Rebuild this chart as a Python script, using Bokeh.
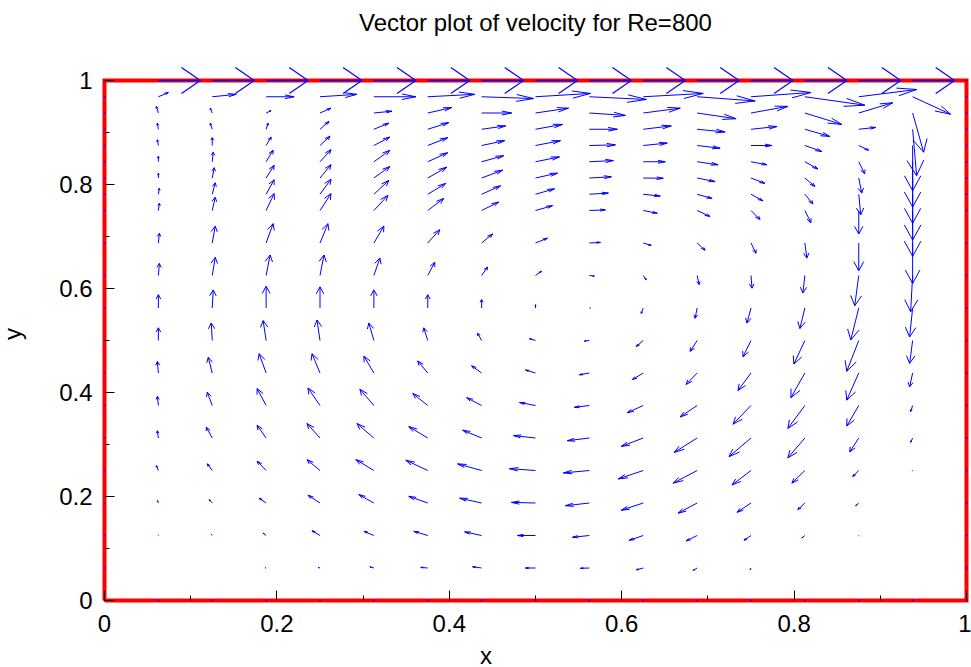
import numpy as np
from bokeh.plotting import figure
from bokeh.models import Range1d, FixedTicker, Label
from bokeh.embed import file_html
from bokeh.resources import INLINE

# ---------------- data ----------------
x_cols = [0.0625, 0.125, 0.1875, 0.25, 0.3125, 0.375, 0.4375, 0.5,
          0.5625, 0.625, 0.6875, 0.75, 0.8125, 0.875, 0.9375]
y_rows = [0.0625, 0.125, 0.1875, 0.25, 0.3125, 0.375, 0.4375, 0.5,
          0.5625, 0.625, 0.6875, 0.75, 0.78125, 0.8125, 0.84375,
          0.875, 0.90625, 0.9375, 0.96875]

# u velocity, one list per row (bottom row first), columns left to right
u_rows = [
    [0.00, 0.00, -0.01, -0.02, -0.04, -0.07, -0.09, -0.10, -0.09, -0.07, -0.04, -0.01, 0.00, 0.00, 0.00],
    [0.00, -0.01, -0.03, -0.08, -0.10, -0.14, -0.17, -0.18, -0.17, -0.14, -0.11, -0.07, -0.03, 0.00, 0.00],
    [-0.01, -0.03, -0.07, -0.12, -0.15, -0.19, -0.22, -0.24, -0.24, -0.22, -0.19, -0.14, -0.07, -0.03, 0.00],
    [-0.02, -0.05, -0.09, -0.13, -0.18, -0.22, -0.24, -0.26, -0.26, -0.25, -0.24, -0.19, -0.13, -0.06, -0.005],
    [-0.01, -0.06, -0.09, -0.13, -0.17, -0.19, -0.19, -0.22, -0.22, -0.22, -0.23, -0.22, -0.17, -0.09, -0.02],
    [-0.01, -0.05, -0.09, -0.12, -0.14, -0.15, -0.15, -0.16, -0.15, -0.16, -0.17, -0.18, -0.17, -0.12, -0.02],
    [-0.01, -0.04, -0.07, -0.08, -0.10, -0.10, -0.10, -0.10, -0.10, -0.11, -0.11, -0.13, -0.14, -0.12, -0.03],
    [0.00, -0.01, -0.03, -0.03, -0.05, -0.04, -0.04, -0.06, -0.05, -0.07, -0.07, -0.08, -0.11, -0.12, -0.03],
    [0.00, 0.01, 0.00, 0.00, 0.00, 0.00, 0.00, 0.00, 0.01, -0.02, -0.02, -0.04, -0.05, -0.08, -0.03],
    [0.01, 0.03, 0.04, 0.04, 0.06, 0.07, 0.06, 0.06, 0.05, 0.03, 0.02, 0.01, -0.02, -0.04, -0.02],
    [0.01, 0.03, 0.07, 0.08, 0.10, 0.12, 0.11, 0.12, 0.11, 0.08, 0.08, 0.05, 0.02, 0.00, 0.00],
    [0.01, 0.03, 0.08, 0.11, 0.14, 0.16, 0.17, 0.17, 0.16, 0.14, 0.13, 0.09, 0.06, 0.00, 0.00],
    [0.01, 0.03, 0.08, 0.11, 0.15, 0.18, 0.19, 0.19, 0.19, 0.17, 0.15, 0.12, 0.08, 0.02, 0.00],
    [0.00, 0.02, 0.08, 0.11, 0.16, 0.19, 0.21, 0.22, 0.22, 0.20, 0.18, 0.14, 0.10, 0.03, 0.00],
    [0.00, 0.01, 0.07, 0.11, 0.16, 0.20, 0.22, 0.24, 0.24, 0.22, 0.21, 0.16, 0.13, 0.06, 0.00],
    [-0.01, 0.00, 0.05, 0.10, 0.16, 0.20, 0.23, 0.25, 0.26, 0.24, 0.23, 0.21, 0.17, 0.10, 0.00],
    [-0.01, -0.02, 0.02, 0.09, 0.15, 0.21, 0.24, 0.27, 0.28, 0.28, 0.28, 0.26, 0.25, 0.17, 0.04],
    [-0.02, -0.02, 0.05, 0.11, 0.18, 0.24, 0.30, 0.33, 0.36, 0.37, 0.39, 0.37, 0.37, 0.34, 0.11],
    [0.10, 0.24, 0.28, 0.37, 0.42, 0.47, 0.52, 0.55, 0.57, 0.60, 0.58, 0.60, 0.60, 0.58, 0.38],
]
# v velocity, same layout
v_rows = [
    [0.00, 0.00, 0.005, 0.01, 0.02, 0.01, 0.02, 0.00, -0.005, -0.03, -0.04, -0.03, 0.00, 0.00, 0.00],
    [0.01, 0.02, 0.04, 0.08, 0.07, 0.07, 0.06, 0.00, -0.03, -0.08, -0.09, -0.08, -0.04, -0.01, 0.00],
    [0.04, 0.055, 0.08, 0.13, 0.14, 0.11, 0.08, 0.01, -0.045, -0.12, -0.17, -0.155, -0.11, -0.045, 0.00],
    [0.08, 0.11, 0.155, 0.18, 0.18, 0.17, 0.11, 0.03, -0.04, -0.14, -0.21, -0.24, -0.21, -0.10, -0.01],
    [0.12, 0.18, 0.21, 0.24, 0.24, 0.19, 0.13, 0.04, -0.045, -0.14, -0.24, -0.31, -0.33, -0.23, -0.07],
    [0.15, 0.22, 0.28, 0.29, 0.27, 0.20, 0.13, 0.05, -0.03, -0.12, -0.19, -0.31, -0.38, -0.34, -0.10],
    [0.19, 0.26, 0.32, 0.32, 0.28, 0.20, 0.12, 0.05, -0.03, -0.11, -0.19, -0.29, -0.41, -0.45, -0.23],
    [0.21, 0.29, 0.33, 0.34, 0.29, 0.21, 0.12, 0.03, -0.01, -0.10, -0.18, -0.27, -0.39, -0.51, -0.38],
    [0.22, 0.30, 0.36, 0.35, 0.30, 0.22, 0.14, 0.055, 0.00, -0.09, -0.17, -0.25, -0.34, -0.53, -0.48],
    [0.20, 0.30, 0.34, 0.34, 0.29, 0.22, 0.14, 0.07, -0.01, -0.07, -0.15, -0.21, -0.29, -0.50, -0.60],
    [0.16, 0.28, 0.32, 0.32, 0.28, 0.22, 0.15, 0.08, 0.01, -0.04, -0.12, -0.17, -0.25, -0.46, -0.67],
    [0.12, 0.22, 0.28, 0.28, 0.25, 0.20, 0.14, 0.08, 0.01, -0.045, -0.10, -0.15, -0.20, -0.39, -0.76],
    [0.10, 0.19, 0.24, 0.25, 0.23, 0.18, 0.14, 0.09, 0.02, -0.03, -0.07, -0.11, -0.16, -0.34, -0.76],
    [0.08, 0.17, 0.21, 0.22, 0.19, 0.18, 0.13, 0.08, 0.02, -0.005, -0.06, -0.09, -0.14, -0.25, -0.75],
    [0.09, 0.16, 0.19, 0.20, 0.19, 0.15, 0.10, 0.08, 0.02, 0.00, -0.05, -0.05, -0.12, -0.20, -0.75],
    [0.095, 0.13, 0.14, 0.155, 0.14, 0.13, 0.08, 0.08, 0.01, 0.04, -0.045, 0.00, -0.10, -0.08, -0.75],
    [0.10, 0.10, 0.10, 0.13, 0.10, 0.11, 0.055, 0.08, 0.00, 0.055, -0.045, 0.045, -0.12, 0.03, -0.77],
    [0.11, 0.08, 0.04, 0.08, 0.03, 0.09, 0.00, 0.08, -0.04, 0.08, -0.095, 0.11, -0.19, 0.17, -0.65],
    [0.07, 0.04, 0.00, 0.04, 0.00, 0.04, -0.03, 0.055, -0.045, 0.055, -0.07, 0.07, -0.14, 0.12, -0.29],
]

# moving lid (y = 1)
lid_y = 1.0
lid_u = [1.0, 1.0, 1.0, 1.0, 1.0, 1.0, 1.0, 1.0, 1.0, 1.0, 1.0, 1.0, 1.0, 1.0, 1.0]
lid_v = [0.0, 0.0, 0.0, 0.0, 0.0, 0.0, 0.0, 0.0, 0.0, 0.0, 0.0, 0.0, 0.0, 0.0, 0.0]

# cavity walls
wall_x = [0.0, 1.0, 1.0, 0.0, 0.0]
wall_y = [0.0, 0.0, 1.0, 1.0, 0.0]

tick_values = [0.0, 0.2, 0.4, 0.6, 0.8, 1.0]
tick_labels = ["0", "0.2", "0.4", "0.6", "0.8", "1"]
minor_values = [0.1, 0.3, 0.5, 0.7, 0.9]
title_text = "Vector plot of velocity for Re=800"

# ---------------- styling constants ----------------
SCALE = 0.116        # data units per velocity unit (interior quiver)
LID_SCALE = 0.0487   # data units per velocity unit (lid quiver)
HEAD_A, HEAD_C = 0.33, 0.109
LID_HEAD_A, LID_HEAD_C = 0.45, 0.51
BLUE = "#0000ff"
RED = "#ff0000"
FONT = "Liberation Sans"
TICK_FS = "24px"
LABEL_FS = "24px"
TITLE_FS = "24px"

# pixel geometry of the box inside the 971x667 canvas
PX_L, PX_R, PX_T, PX_B = 104, 966, 80, 600
W, H = 971, 667
sx = PX_R - PX_L
sy = PX_B - PX_T


def arrows(x, y, u, v, a, c):
    x = np.asarray(x, float).ravel()
    y = np.asarray(y, float).ravel()
    u = np.asarray(u, float).ravel()
    v = np.asarray(v, float).ravel()
    tx, ty = x + u, y + v
    w1x, w1y = tx - a * u - c * v, ty - a * v + c * u
    w2x, w2y = tx - a * u + c * v, ty - a * v - c * u
    return (x, y, tx, ty), (w1x, w1y, w2x, w2y)


p = figure(width=W, height=H,
           x_range=Range1d(-PX_L / sx, (W - PX_L) / sx),
           y_range=Range1d(-(H - PX_B) / sy, PX_B / sy),
           min_border_left=0, min_border_right=0,
           min_border_top=0, min_border_bottom=0,
           toolbar_location=None, output_backend="svg")
p.background_fill_color = "white"
p.border_fill_color = "white"
p.outline_line_color = None
p.grid.visible = False

# walls
p.line(wall_x, wall_y, line_color=RED, line_width=4, line_join="miter")

# zero-velocity points on the walls
ys = np.asarray(y_rows)
xs = np.asarray(x_cols)
dot_x = np.concatenate([np.zeros_like(ys), np.ones_like(ys), xs, [0.0, 1.0, 0.0, 1.0]])
dot_y = np.concatenate([ys, ys, np.zeros_like(xs), [0.0, 0.0, 1.0, 1.0]])
p.scatter(dot_x, dot_y, marker="square", size=1.6, fill_color=BLUE, line_color=None)

# interior quiver
X, Y = np.meshgrid(x_cols, y_rows)
U = np.asarray(u_rows) * SCALE
V = np.asarray(v_rows) * SCALE
(ax0, ay0, tx, ty), (w1x, w1y, w2x, w2y) = arrows(X, Y, U, V, HEAD_A, HEAD_C)
p.segment(ax0, ay0, tx, ty, line_color=BLUE, line_width=1)
p.segment(w1x, w1y, tx, ty, line_color=BLUE, line_width=1)
p.segment(w2x, w2y, tx, ty, line_color=BLUE, line_width=1)

# lid quiver
LU = np.asarray(lid_u) * LID_SCALE
LV = np.asarray(lid_v) * LID_SCALE
(lx, ly, ltx, lty), (l1x, l1y, l2x, l2y) = arrows(x_cols, np.full(len(x_cols), lid_y), LU, LV,
                                                 LID_HEAD_A, LID_HEAD_C)
p.segment(lx, ly, ltx, lty, line_color=BLUE, line_width=1.5)
p.segment(l1x, l1y, ltx, lty, line_color=BLUE, line_width=1.2)
p.segment(l2x, l2y, ltx, lty, line_color=BLUE, line_width=1.2)

# axes placed on the box edges
p.xaxis.fixed_location = 0
p.yaxis.fixed_location = 0
for ax in (p.xaxis, p.yaxis):
    ax.ticker = FixedTicker(ticks=tick_values, minor_ticks=minor_values)
    ax.major_label_overrides = dict(zip(tick_values, tick_labels))
    ax.axis_line_color = None
    ax.major_tick_in = 10
    ax.major_tick_out = 0
    ax.minor_tick_in = 5
    ax.minor_tick_out = 0
    ax.major_tick_line_color = "black"
    ax.minor_tick_line_color = "black"
    ax.major_label_text_font = FONT
    ax.major_label_text_font_size = TICK_FS
    ax.major_label_text_color = "black"
    ax.axis_label_text_font = FONT
    ax.axis_label_text_font_size = LABEL_FS
    ax.axis_label_text_font_style = "normal"
    ax.axis_label_text_color = "black"
p.xaxis.major_label_standoff = 14
p.yaxis.major_label_standoff = 12
p.xaxis.axis_label = "x"
p.yaxis.axis_label = "y"
p.xaxis.axis_label_standoff = 7
p.yaxis.axis_label_standoff = 30

title = Label(x=0.5, y=(PX_B - 22) / sy, text=title_text, text_align="center",
              text_baseline="middle", text_font=FONT, text_font_size=TITLE_FS,
              text_color="black")
p.add_layout(title)

open("out.html", "w").write(file_html(p, INLINE))
